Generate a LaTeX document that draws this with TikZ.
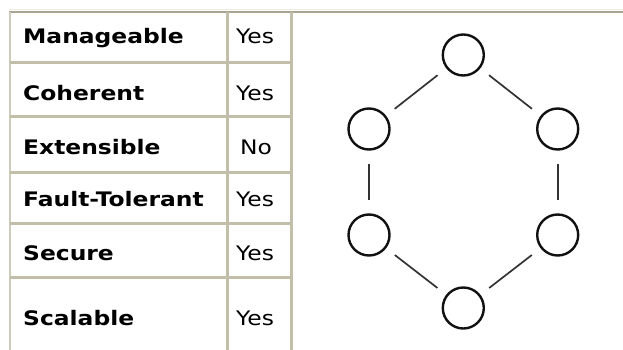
\documentclass[tikz,border=0pt]{standalone}
\usepackage{fontspec}
\setmainfont{DejaVu Sans}[FakeStretch=1.17]
\definecolor{cellc}{HTML}{C2BEAA}
\definecolor{topdark}{HTML}{A9A592}
\definecolor{toplight}{HTML}{EFECE0}
\definecolor{edgec}{HTML}{333333}
\definecolor{vtxc}{HTML}{111111}
\begin{document}
\begin{tikzpicture}[x=1pt,y=-1pt,
  lbl/.style={anchor=base west,inner sep=0pt,font=\fontsize{20}{22}\selectfont\bfseries},
  val/.style={anchor=base west,inner sep=0pt,font=\fontsize{20}{22}\selectfont},
  rule/.style={draw=cellc,line width=3pt},
  vtx/.style={circle,draw=vtxc,line width=2.4pt,minimum size=41pt,inner sep=0pt},
  link/.style={draw=edgec,line width=1.7pt,shorten >=11pt,shorten <=11pt},
  vlink/.style={draw=edgec,line width=1.7pt,shorten >=13pt,shorten <=13pt}]
\useasboundingbox[fill=white] (0,0) rectangle (623,350);
% outer frame
\draw[toplight,line width=1.2pt] (9,9.5) -- (623,9.5);
\draw[topdark,line width=2pt] (9,12.5) -- (623,12.5);
\draw[cellc!80,line width=2.4pt] (10,12) -- (10,350);
% table grid
\foreach \yy in {63,117,172,223,277} \draw[rule] (10,\yy) -- (292,\yy);
\draw[rule] (227,12) -- (227,350);
\draw[rule] (291.5,12) -- (291.5,350);
% labels
\node[lbl] (l1) at (23,44) {Manageable};
\node[lbl] (l2) at (23,100.5) {Coherent};
\node[lbl] (l3) at (23,154) {Extensible};
\node[lbl] (l4) at (23,206) {Fault-Tolerant};
\node[lbl] (l5) at (23,260) {Secure};
\node[lbl] (l6) at (23,325) {Scalable};
\node[val] (v1) at (236,44) {Yes};
\node[val] (v2) at (236,100.5) {Yes};
\node[val] (v3) at (240,154) {No};
\node[val] (v4) at (236,206) {Yes};
\node[val] (v5) at (236,260) {Yes};
\node[val] (v6) at (236,325) {Yes};
% ring graph
\node[vtx] (t)  at (463.3,55) {};
\node[vtx] (ul) at (369,129) {};
\node[vtx] (ur) at (557.7,129) {};
\node[vtx] (ll) at (369,235) {};
\node[vtx] (lr) at (557.7,235) {};
\node[vtx] (b)  at (463.3,308) {};
\draw[link] (t) -- (ul);
\draw[link] (t) -- (ur);
\draw[vlink] (ul) -- (ll);
\draw[vlink] (ur) -- (lr);
\draw[link] (ll) -- (b);
\draw[link] (lr) -- (b);
\end{tikzpicture}
\end{document}
